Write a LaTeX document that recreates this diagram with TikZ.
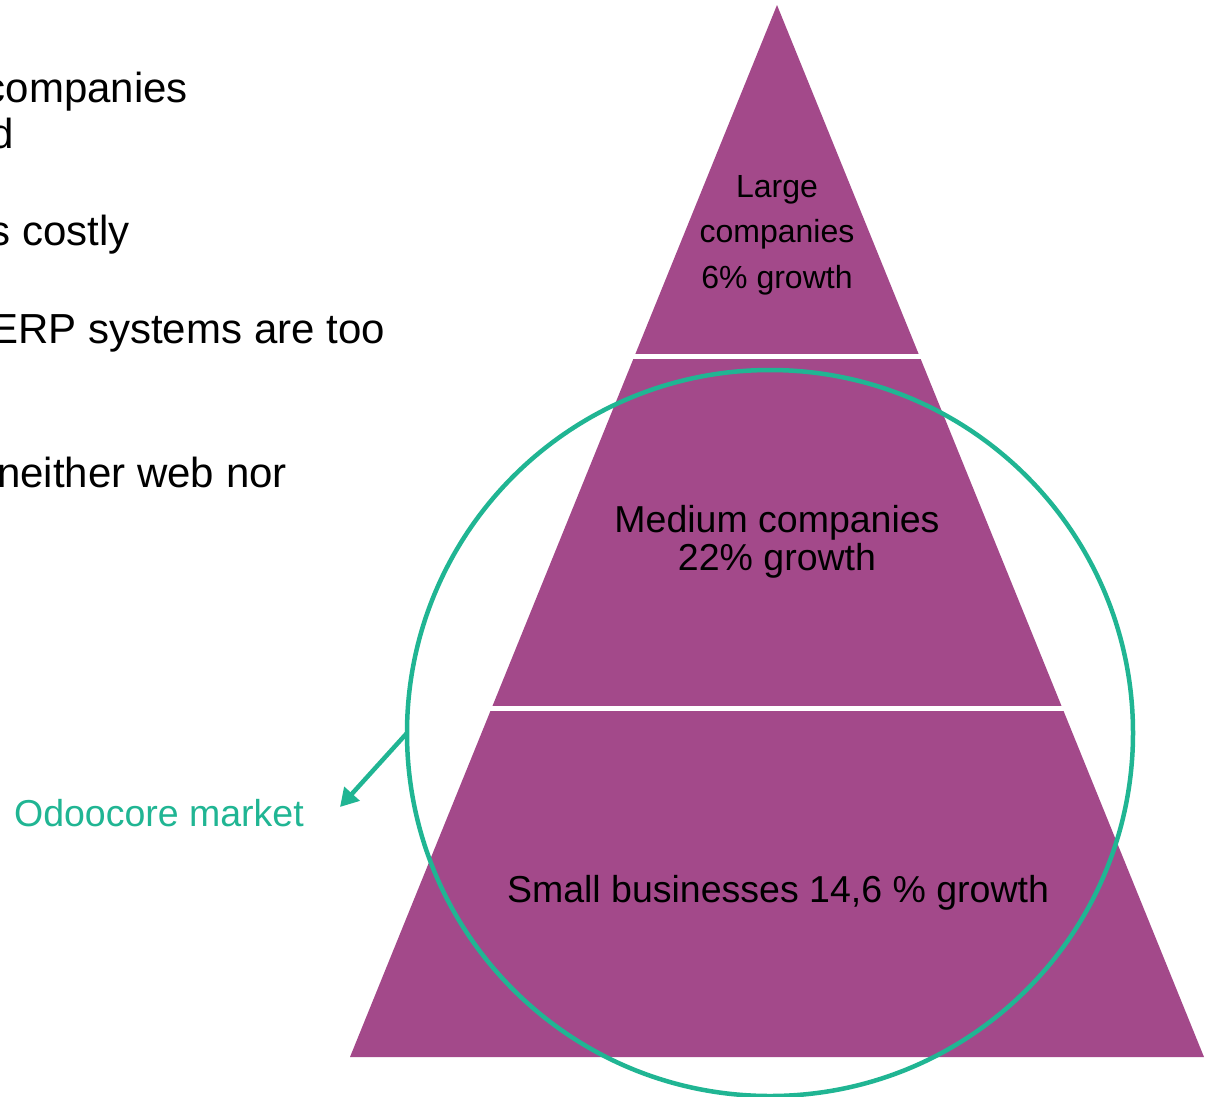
\documentclass[tikz,border=0pt]{standalone}
\usepackage{fontspec}
\setmainfont{Liberation Sans}
\usetikzlibrary{arrows.meta}
\definecolor{pyr}{HTML}{A3498A}
\definecolor{teal}{HTML}{20B593}
\begin{document}
\begin{tikzpicture}[x=1pt,y=-1pt,
  lefttxt/.style={anchor=base east,inner sep=0pt,font=\fontsize{42}{46}\selectfont,text=black},
  pyrtxt/.style={anchor=base,inner sep=0pt,text=black},
  band/.style={draw=white,line width=5pt}]
\useasboundingbox (0,0) rectangle (1207,1096);
\clip (0,0) rectangle (1207,1096);
% left text (clipped at the left edge)
\node[lefttxt] (l1) at (188,102) {companies};
\node[lefttxt] (l2) at (14,148) {d};
\node[lefttxt] (l3) at (130,245) {s costly};
\node[lefttxt] (l4) at (385,343) {ERP systems are too};
\node[lefttxt] (l5) at (287,487) {neither web nor};
% pyramid
\coordinate (apex) at (777,5);
\coordinate (bl) at (350,1057);
\coordinate (br) at (1204,1057);
\fill[pyr] (apex) -- (br) -- (bl) -- cycle;
\draw[band] (620,356.5) -- (940,356.5);
\draw[band] (470,708.5) -- (1080,708.5);
% labels
\node[pyrtxt,font=\fontsize{32}{36}\selectfont] (t1) at (777,197) {Large};
\node[pyrtxt,font=\fontsize{32}{36}\selectfont] (t2) at (777,242) {companies};
\node[pyrtxt,font=\fontsize{32}{36}\selectfont] (t3) at (777,288) {6\% growth};
\node[pyrtxt,font=\fontsize{37.5}{40}\selectfont] (m1) at (777,532) {Medium companies};
\node[pyrtxt,font=\fontsize{37.5}{40}\selectfont] (m2) at (777,570) {22\% growth};
\node[pyrtxt,font=\fontsize{37.5}{40}\selectfont] (s1) at (778,902) {Small businesses 14,6 \% growth};
% market circle
\node[circle,draw=teal,line width=4.5pt,minimum size=726pt,inner sep=0pt,outer sep=0pt] (mkt) at (770,733) {};
\coordinate (tip) at (340,807);
\draw[teal,line width=4.5pt,-{Triangle[length=18pt,width=20pt]}] (mkt.west) -- (tip);
\node[anchor=base east,inner sep=0pt,text=teal,font=\fontsize{37.5}{40}\selectfont] (odoo) at (304,826) {Odoocore market};
\end{tikzpicture}
\end{document}
